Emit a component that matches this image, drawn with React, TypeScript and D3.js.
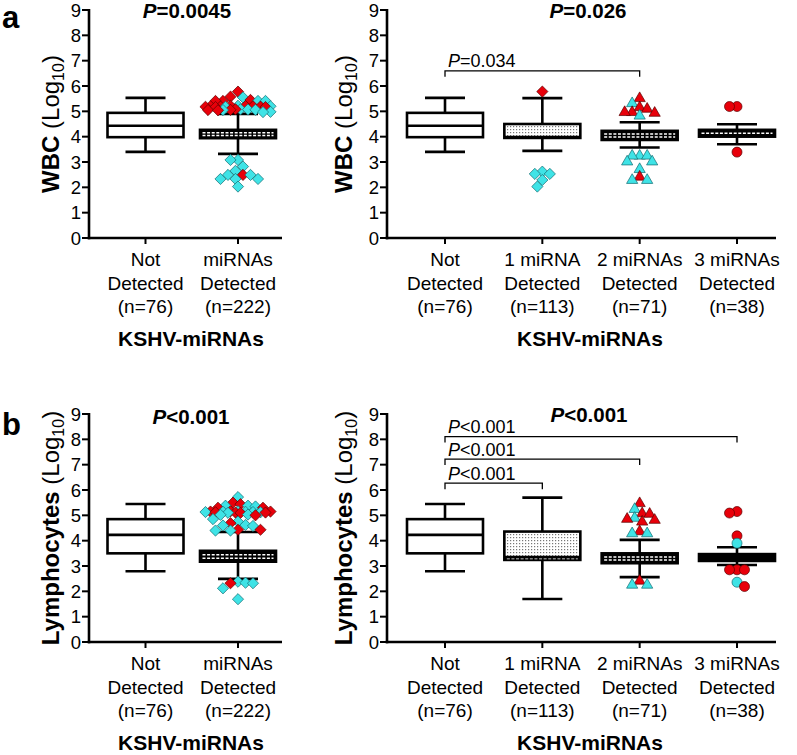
import React from 'react';
import * as d3 from 'd3';

const yTicks = d3.range(0, 10);

const twoGroupLabels = [
  ['Not', 'Detected', '(n=76)'],
  ['miRNAs', 'Detected', '(n=222)'],
];
const fourGroupLabels = [
  ['Not', 'Detected', '(n=76)'],
  ['1 miRNA', 'Detected', '(n=113)'],
  ['2 miRNAs', 'Detected', '(n=71)'],
  ['3 miRNAs', 'Detected', '(n=38)'],
];

// box stats: [lower whisker, Q1, median, Q3, upper whisker] (log10)
const wbcTwoBoxes = [
  [3.4, 3.98, 4.43, 4.94, 5.53],
  [3.32, 3.94, 4.1, 4.27, 4.9],
];
const wbcFourBoxes = [
  [3.4, 3.98, 4.43, 4.94, 5.53],
  [3.44, 3.95, 3.98, 4.5, 5.52],
  [3.57, 3.87, 4.03, 4.23, 4.57],
  [3.7, 4.0, 4.16, 4.27, 4.49],
];
const lymTwoBoxes = [
  [2.79, 3.5, 4.23, 4.85, 5.45],
  [2.49, 3.17, 3.38, 3.6, 4.34],
];
const lymFourBoxes = [
  [2.79, 3.5, 4.23, 4.85, 5.45],
  [1.7, 3.24, 3.35, 4.36, 5.7],
  [2.56, 3.11, 3.3, 3.5, 4.03],
  [3.04, 3.2, 3.33, 3.47, 3.74],
];

// outliers: [value, colour] r = red, c = cyan
type Pt = [number, string];
const wbcTwoOutliers: Pt[][] = [
  [],
  [
    [5.78, 'r'], [5.58, 'r'], [5.55, 'c'], [5.45, 'r'], [5.41, 'r'], [5.41, 'c'], [5.41, 'r'], [5.41, 'c'],
    [5.22, 'c'], [5.22, 'r'], [5.21, 'r'], [5.2, 'r'], [5.2, 'c'], [5.2, 'r'], [5.19, 'r'], [5.19, 'r'],
    [5.18, 'r'], [5.18, 'c'], [5.17, 'r'], [5.17, 'r'],
    [5.08, 'c'], [5.08, 'r'], [5.07, 'c'], [5.06, 'c'], [5.06, 'r'], [5.05, 'c'], [5.05, 'r'], [5.04, 'r'],
    [4.98, 'c'], [4.97, 'c'],
    [3.08, 'c'], [3.08, 'c'], [2.82, 'c'], [2.65, 'c'], [2.49, 'r'], [2.49, 'c'], [2.49, 'c'],
    [2.33, 'c'], [2.33, 'c'], [2.33, 'c'], [2.03, 'c'],
  ],
];
const wbcFourOutliers: Pt[][] = [
  [],
  [[5.78, 'r'], [2.62, 'c'], [2.53, 'c'], [2.53, 'c'], [2.29, 'c'], [2.03, 'c']],
  [
    [5.55, 'r'], [5.35, 'c'], [5.19, 'r'], [5.13, 'r'], [5.0, 'r'], [5.0, 'r'], [4.97, 'r'], [4.86, 'c'],
    [3.28, 'c'], [3.28, 'c'], [3.28, 'c'], [3.05, 'c'], [3.05, 'c'], [2.75, 'c'], [2.45, 'r'], [2.32, 'c'], [2.32, 'c'],
  ],
  [[5.19, 'r'], [5.19, 'r'], [3.39, 'r']],
];
const lymTwoOutliers: Pt[][] = [
  [],
  [
    [5.72, 'c'], [5.5, 'r'], [5.44, 'r'], [5.38, 'c'], [5.38, 'c'], [5.35, 'c'], [5.3, 'r'], [5.3, 'r'],
    [5.16, 'c'], [5.16, 'r'], [5.15, 'r'], [5.15, 'r'], [5.14, 'c'], [5.14, 'c'], [5.13, 'c'], [5.13, 'c'],
    [5.12, 'c'], [5.12, 'r'], [5.11, 'r'], [5.11, 'r'], [5.1, 'r'], [5.1, 'c'],
    [5.03, 'c'], [5.02, 'c'], [5.0, 'r'],
    [4.85, 'c'], [4.75, 'c'], [4.69, 'r'], [4.62, 'c'], [4.6, 'c'], [4.58, 'c'],
    [4.43, 'r'], [4.43, 'r'], [4.4, 'c'], [4.4, 'c'],
    [2.38, 'c'], [2.34, 'c'], [2.32, 'r'], [2.32, 'c'], [2.12, 'c'], [1.69, 'c'],
  ],
];
const lymFourOutliers: Pt[][] = [
  [],
  [],
  [
    [5.51, 'r'], [5.28, 'c'], [5.11, 'r'], [5.09, 'r'], [4.93, 'c'], [4.89, 'r'], [4.85, 'r'], [4.78, 'r'],
    [4.4, 'r'], [4.32, 'c'], [4.32, 'c'],
    [2.45, 'r'], [2.29, 'c'], [2.29, 'c'],
  ],
  [
    [5.15, 'r'], [5.09, 'r'], [4.19, 'r'], [3.9, 'c'],
    [2.85, 'r'], [2.85, 'r'], [2.85, 'r'], [2.36, 'c'], [2.19, 'r'],
  ],
];

// significance brackets: [from group, to group, level (log10), label]
const wbcBrackets: [number, number, number, string][] = [[0, 2, 6.6, '=0.034']];
const lymBrackets: [number, number, number, string][] = [
  [0, 3, 8.11, '<0.001'],
  [0, 2, 7.22, '<0.001'],
  [0, 1, 6.27, '<0.001'],
];

const FONT = 'Liberation Sans, Arial, Helvetica, sans-serif';
const RED = '#e8000a';
const CYAN = '#3fe3e6';

function swarm(vals: Pt[], y: (v: number) => number, cx: number, d: number, maxOff: number) {
  const sorted = [...vals].sort((a, b) => b[0] - a[0]);
  const placed: { x: number; y: number; c: string }[] = [];
  const step = 2.5;
  const nSteps = Math.floor(maxOff / step);
  sorted.forEach(([v, c], i) => {
    const py = y(v);
    let found: number | null = null;
    let fallback = cx;
    let bestScore = -1;
    const sign = i % 2 ? -1 : 1;
    for (let k = 0; k <= nSteps * 2; k++) {
      const off = k === 0 ? 0 : (k % 2 ? sign : -sign) * Math.ceil(k / 2) * step;
      const px = cx + off;
      let minD = Infinity;
      for (const p of placed) minD = Math.min(minD, Math.hypot(p.x - px, p.y - py));
      if (minD >= d) { found = px; break; }
      if (minD > bestScore) { bestScore = minD; fallback = px; }
    }
    placed.push({ x: found ?? fallback, y: py, c });
  });
  return placed;
}

function Marker({ shape, x, y, c }: { shape: string; x: number; y: number; c: string }) {
  const fill = c === 'r' ? RED : CYAN;
  const stroke = c === 'r' ? '#5a0000' : '#136a70';
  if (shape === 'circle') return <circle cx={x} cy={y} r={5} fill={fill} stroke={stroke} strokeWidth={0.7} />;
  if (shape === 'triangle')
    return <path d={`M${x},${y - 5.5}L${x + 5.6},${y + 4.2}L${x - 5.6},${y + 4.2}Z`} fill={fill} stroke={stroke} strokeWidth={0.7} />;
  return <path d={`M${x},${y - 5.6}L${x + 5.6},${y}L${x},${y + 5.6}L${x - 5.6},${y}Z`} fill={fill} stroke={stroke} strokeWidth={0.7} />;
}

function BoxMark({ cx, stats, y, kind, boxW, capW }: any) {
  const [lo, q1, med, q3, hi] = stats;
  const yTop = y(q3), yBot = y(q1), yMed = y(med), yHi = y(hi), yLo = y(lo);
  const x0 = cx - boxW / 2;
  const h = yBot - yTop;
  const sw = 2.6;
  const whisk = (
    <g stroke="#000" strokeWidth={sw}>
      <line x1={cx} x2={cx} y1={yTop} y2={yHi} />
      <line x1={cx} x2={cx} y1={yBot} y2={yLo} />
      <line x1={cx - capW / 2} x2={cx + capW / 2} y1={yHi} y2={yHi} />
      <line x1={cx - capW / 2} x2={cx + capW / 2} y1={yLo} y2={yLo} />
    </g>
  );
  if (kind === 'open') {
    return (
      <g>
        {whisk}
        <rect x={x0} y={yTop} width={boxW} height={h} fill="#fff" stroke="#000" strokeWidth={sw} />
        <line x1={x0} x2={x0 + boxW} y1={yMed} y2={yMed} stroke="#000" strokeWidth={sw} />
      </g>
    );
  }
  const dash = (yy: number, k: string) => (
    <line key={k} x1={x0 + 2.5} x2={x0 + boxW - 2.5} y1={yy} y2={yy} stroke="#fff" strokeWidth={1.5} strokeDasharray="3 1.6" />
  );
  if (h < 12) {
    const rows = kind === 'solid' ? [] : h >= 8 ? [yTop + h * 0.36, yTop + h * 0.68] : [(yTop + yBot) / 2];
    return (
      <g>
        {whisk}
        <rect x={x0 - 1.3} y={yTop - 1.3} width={boxW + 2.6} height={h + 2.6} fill="#000" />
        {rows.map((r, i) => dash(r, 'r' + i))}
      </g>
    );
  }
  const hLow = yBot - yMed;
  return (
    <g>
      {whisk}
      <rect x={x0} y={yTop} width={boxW} height={h} fill="url(#stipple)" stroke="#000" strokeWidth={sw} />
      {hLow > 1.5 && hLow < 6 && (
        <g>
          <rect x={x0} y={yMed} width={boxW} height={hLow} fill="#000" />
          {dash(yMed + hLow / 2, 'low')}
        </g>
      )}
      <line x1={x0} x2={x0 + boxW} y1={yMed} y2={yMed} stroke="#000" strokeWidth={sw} />
    </g>
  );
}

function Panel({ axisX, xEnd, catRange, base, top, labels, boxes, outliers, kinds, shapes, title, yTitle, titleX, titleX2, titleY, yTitleX, brackets, maxOff }: any) {
  const y = d3.scaleLinear().domain([0, 9]).range([base, top]);
  const x = d3.scalePoint<number>().domain(d3.range(labels.length)).range(catRange);
  const boxW = 76;
  const capW = 40;
  const midY = (base + top) / 2;
  return (
    <g fontFamily={FONT}>
      {/* axes */}
      <line x1={axisX} x2={axisX} y1={top - 1} y2={base + 1.3} stroke="#000" strokeWidth={2.6} />
      <line x1={axisX - 1.3} x2={xEnd} y1={base} y2={base} stroke="#000" strokeWidth={2.6} />
      {yTicks.map((t) => (
        <g key={t}>
          <line x1={axisX - 7} x2={axisX} y1={y(t)} y2={y(t)} stroke="#000" strokeWidth={2} />
          <text x={axisX - 8} y={y(t)} dy="0.36em" textAnchor="end" fontSize={18.5}>{t}</text>
        </g>
      ))}
      {labels.map((lines: string[], i: number) => (
        <g key={i}>
          <line x1={x(i)} x2={x(i)} y1={base} y2={base + 6} stroke="#000" strokeWidth={2} />
          {lines.map((s, j) => (
            <text key={j} x={x(i)} y={base + 28 + j * 23.5} textAnchor="middle" fontSize={19}>{s}</text>
          ))}
        </g>
      ))}
      <text x={titleX} y={base + 108} textAnchor="middle" fontSize={21} fontWeight="bold">KSHV-miRNAs</text>
      <text transform={`translate(${yTitleX},${midY}) rotate(-90)`} textAnchor="middle" fontSize={24}>
        <tspan fontWeight="bold">{yTitle} </tspan>
        <tspan>(Log</tspan>
        <tspan fontSize={16} dy={5}>10</tspan>
        <tspan dy={-5}>)</tspan>
      </text>
      <text x={titleX2} y={titleY} textAnchor="middle" fontSize={20.5} fontWeight="bold">
        <tspan fontStyle="italic">P</tspan>{title}
      </text>
      {brackets.map(([a, b, lvl, lab]: any, i: number) => (
        <g key={i}>
          <path d={`M${x(a)},${y(lvl) + 6}V${y(lvl)}H${x(b)}V${y(lvl) + 6}`} fill="none" stroke="#000" strokeWidth={1.3} />
          <text x={(x(a) as number) + 3} y={y(lvl) - 3.5} fontSize={18}>
            <tspan fontStyle="italic">P</tspan>{lab}
          </text>
        </g>
      ))}
      {boxes.map((s: number[], i: number) => (
        <BoxMark key={i} cx={x(i)} stats={s} y={y} kind={kinds[i]} boxW={boxW} capW={capW} />
      ))}
      {outliers.map((pts: Pt[], i: number) =>
        swarm(pts, y, x(i) as number, 7.2, maxOff).map((p, j) => (
          <Marker key={i + '-' + j} shape={shapes[i]} x={p.x} y={p.y} c={p.c} />
        ))
      )}
    </g>
  );
}

export default function App() {
  return (
    <svg width={797} height={755} style={{ position: 'absolute', left: 0, top: 0, background: '#fff' }}>
      <defs>
        <pattern id="stipple" width={3} height={3} patternUnits="userSpaceOnUse">
          <rect width={3} height={3} fill="#fff" />
          <rect x={0} y={0} width={1.2} height={1.2} fill="#777" />
        </pattern>
      </defs>
      <rect width={797} height={755} fill="#fff" />
      <text x={2} y={28} fontFamily={FONT} fontWeight="bold" fontSize={31}>a</text>
      <text x={2} y={435} fontFamily={FONT} fontWeight="bold" fontSize={31}>b</text>
      <Panel axisX={89} xEnd={282} catRange={[145.5, 238]} base={238} top={10} labels={twoGroupLabels}
        boxes={wbcTwoBoxes} outliers={wbcTwoOutliers} kinds={['open', 'fill']} shapes={['diamond', 'diamond']}
        title="=0.0045" yTitle="WBC" titleX={191} titleX2={187} titleY={18} yTitleX={59} brackets={[]} maxOff={33} />
      <Panel axisX={387} xEnd={776} catRange={[445, 737]} base={238} top={10} labels={fourGroupLabels}
        boxes={wbcFourBoxes} outliers={wbcFourOutliers} kinds={['open', 'fill', 'fill', 'fill']}
        shapes={['diamond', 'diamond', 'triangle', 'circle']}
        title="=0.026" yTitle="WBC" titleX={590} titleX2={588} titleY={18} yTitleX={352} brackets={wbcBrackets} maxOff={30} />
      <Panel axisX={89} xEnd={282} catRange={[145.5, 238]} base={642} top={414} labels={twoGroupLabels}
        boxes={lymTwoBoxes} outliers={lymTwoOutliers} kinds={['open', 'fill']} shapes={['diamond', 'diamond']}
        title="<0.001" yTitle="Lymphocytes" titleX={191} titleX2={191} titleY={424} yTitleX={59} brackets={[]} maxOff={33} />
      <Panel axisX={387} xEnd={776} catRange={[445, 737]} base={642} top={414} labels={fourGroupLabels}
        boxes={lymFourBoxes} outliers={lymFourOutliers} kinds={['open', 'fill', 'fill', 'solid']}
        shapes={['diamond', 'diamond', 'triangle', 'circle']}
        title="<0.001" yTitle="Lymphocytes" titleX={590} titleX2={589} titleY={422} yTitleX={352} brackets={lymBrackets} maxOff={30} />
    </svg>
  );
}
